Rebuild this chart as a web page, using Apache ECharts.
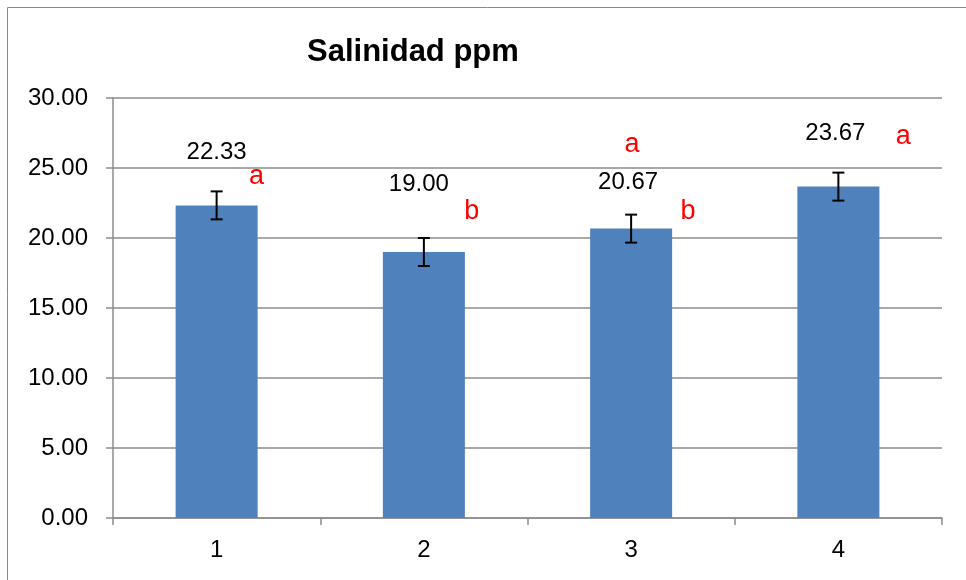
<!DOCTYPE html>
<html>
<head>
<meta charset="utf-8">
<script src="https://cdn.jsdelivr.net/npm/echarts@6/dist/echarts.min.js"></script>
<style>html,body{margin:0;padding:0;background:#fff}#c{width:966px;height:580px}</style>
</head>
<body>
<div id="c"></div>
<script>
const categories = ['1', '2', '3', '4'];
const values = [22.33, 19.00, 20.67, 23.67];
const errors = [1, 1, 1, 1];
const letters = [['a'], ['b'], ['a', 'b'], ['a']];
const yTicks = { min: 0, max: 30, interval: 5 };

// layout (pixel offsets from each error-bar top)
const valueLabelOffsets = [[0, -39], [-5, -54], [-3, -32], [-3, -39]];
const letterOffsets = [[[40, -15]], [[48, -26]], [[1, -70], [57, -3]], [[65, -36]]];

const FONT = '"Liberation Sans", Arial, sans-serif';
const GRID_COLOR = '#8c8c8c';
const chart = echarts.init(document.getElementById('c'));
chart.setOption({
  animation: false,
  backgroundColor: '#fff',
  title: {
    text: 'Salinidad ppm', left: 302, top: 32,
    textStyle: { fontFamily: FONT, fontWeight: 'bold', fontSize: 31, color: '#000' }
  },
  graphic: [{
    type: 'rect', shape: { x: 7.5, y: 7.5, width: 1000, height: 1000 },
    style: { fill: 'none', stroke: '#8a8a8a', lineWidth: 1 }, silent: true, z: 0
  }],
  grid: { left: 113, top: 98, width: 829, height: 420 },
  xAxis: {
    type: 'category', data: categories,
    axisLine: { lineStyle: { color: GRID_COLOR, width: 1.5 } },
    axisTick: { show: true, length: 7, lineStyle: { color: GRID_COLOR, width: 1.5 } },
    axisLabel: { margin: 20, fontFamily: FONT, fontSize: 24, color: '#000' }
  },
  yAxis: {
    type: 'value', min: yTicks.min, max: yTicks.max, interval: yTicks.interval,
    axisLine: { show: true, lineStyle: { color: GRID_COLOR, width: 1.5 } },
    axisTick: { show: true, length: 7, lineStyle: { color: GRID_COLOR, width: 1.5 } },
    splitLine: { lineStyle: { color: GRID_COLOR, width: 1.5 } },
    axisLabel: { margin: 25, fontFamily: FONT, fontSize: 24, color: '#000',
      formatter: v => v.toFixed(2) }
  },
  series: [
    {
      type: 'bar', data: values, barWidth: 82,
      itemStyle: { color: '#4F81BD' }
    },
    {
      type: 'custom',
      data: values.map((v, i) => [i, v, errors[i]]),
      z: 10,
      renderItem: function (params, api) {
        const i = api.value(0), v = api.value(1), e = api.value(2);
        const top = api.coord([i, v + e]);
        const bot = api.coord([i, v - e]);
        const x = top[0], cw = 6;
        const children = [
          { type: 'line', shape: { x1: x, y1: top[1], x2: x, y2: bot[1] }, style: { stroke: '#000', lineWidth: 2 } },
          { type: 'line', shape: { x1: x - cw, y1: top[1], x2: x + cw, y2: top[1] }, style: { stroke: '#000', lineWidth: 2 } },
          { type: 'line', shape: { x1: x - cw, y1: bot[1], x2: x + cw, y2: bot[1] }, style: { stroke: '#000', lineWidth: 2 } },
          { type: 'text', x: x + valueLabelOffsets[i][0], y: top[1] + valueLabelOffsets[i][1],
            style: { text: values[i].toFixed(2), fill: '#000', font: '24px ' + FONT, align: 'center', verticalAlign: 'middle' } }
        ];
        letters[i].forEach((t, k) => {
          const off = letterOffsets[i][k];
          children.push({ type: 'text', x: x + off[0], y: top[1] + off[1],
            style: { text: t, fill: '#ff0000', font: '27px ' + FONT, align: 'center', verticalAlign: 'middle' } });
        });
        return { type: 'group', children: children };
      }
    }
  ]
});
</script>
</body>
</html>
